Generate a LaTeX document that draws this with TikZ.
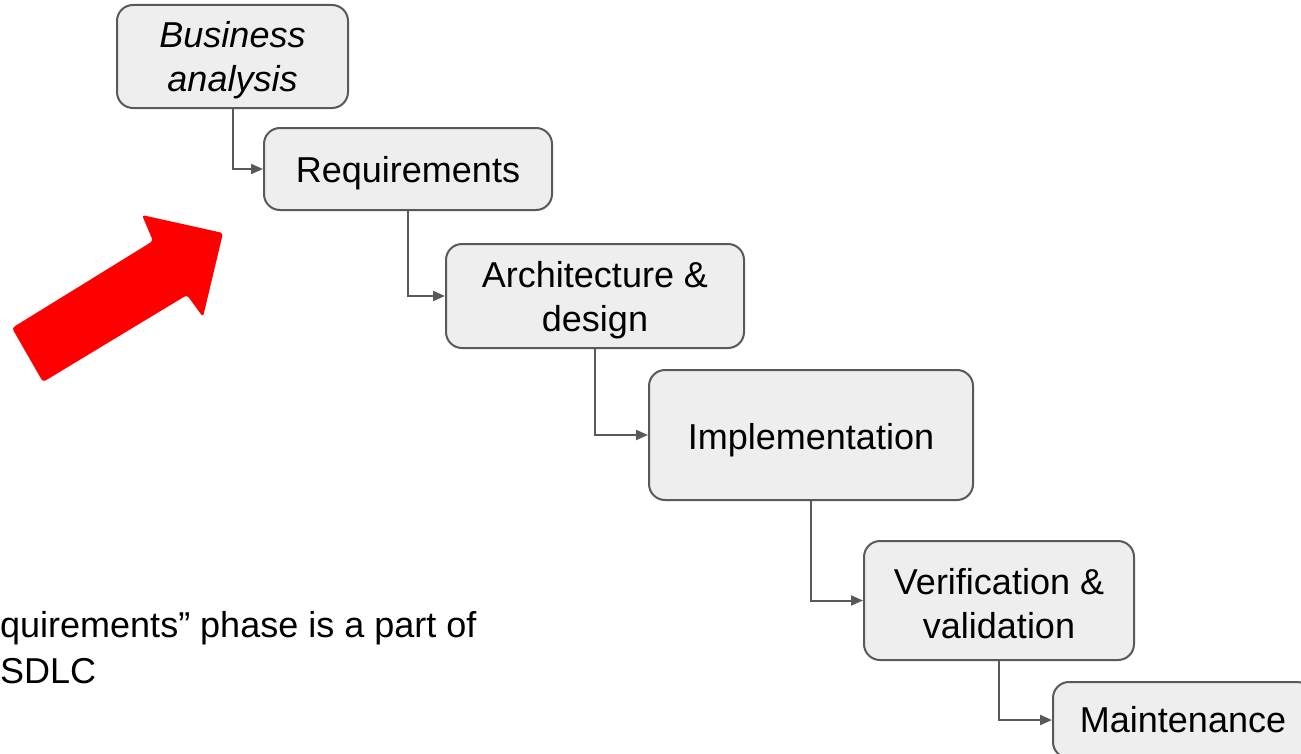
\documentclass[tikz,border=0pt]{standalone}
\usepackage{fontspec}
\setmainfont{Liberation Sans}
\usetikzlibrary{arrows.meta}
\definecolor{boxfill}{HTML}{EEEEEE}
\definecolor{boxline}{HTML}{595959}
\definecolor{arrowred}{HTML}{FF0000}
\newcommand{\lowtext}[2][4.5bp]{\raisebox{-#1}[\height][\depth]{\begin{tabular}{@{}c@{}}#2\end{tabular}}}
\tikzset{
  phase/.style={draw=boxline, line width=2bp, fill=boxfill, rounded corners=16bp,
    inner sep=0pt, align=center, font=\fontsize{36bp}{44bp}\selectfont},
  conn/.style={draw=boxline, line width=2bp, -{Triangle[length=12bp,width=10bp]}},
  note/.style={inner sep=0pt, anchor=base west, font=\fontsize{36bp}{44bp}\selectfont}
}
\begin{document}
\begin{tikzpicture}[x=1bp,y=-1bp]
\useasboundingbox (0,0) rectangle (1301,753);
\clip (0,0) rectangle (1301,753);
\fill[white] (0,0) rectangle (1301,753);
\node[phase, minimum width=231bp, minimum height=103bp] (ba) at (232.5,56.5) {\lowtext{\itshape Business\\\itshape analysis}};
\node[phase, minimum width=288bp, minimum height=82bp] (req) at (408,169) {\lowtext{Requirements}};
\node[phase, minimum width=298bp, minimum height=104bp] (arch) at (595,296) {\lowtext{Architecture \&\\design}};
\node[phase, minimum width=324bp, minimum height=130bp] (impl) at (811,435) {\lowtext[6bp]{Implementation}};
\node[phase, minimum width=270bp, minimum height=119bp] (ver) at (999,600.5) {\lowtext[7bp]{Verification \&\\validation}};
\node[phase, minimum width=260bp, minimum height=76bp] (maint) at (1183,720) {\lowtext[3.2bp]{Maintenance}};
\draw[conn] (ba.south) |- (req.west);
\draw[conn] (req.south) |- (arch.west);
\draw[conn] (arch.south) |- (impl.west);
\draw[conn] (impl.south) |- (ver.west);
\draw[conn] (ver.south) |- (maint.west);
\fill[arrowred, rounded corners=3bp] (12,328) -- (153,241) -- (142,215) -- (223,233) -- (203,317) -- (187,295) -- (43,382) -- cycle;
\node[note] (t1) at (0,637) {quirements” phase is a part of};
\node[note] (t2) at (0,683) {SDLC};
\end{tikzpicture}
\end{document}
